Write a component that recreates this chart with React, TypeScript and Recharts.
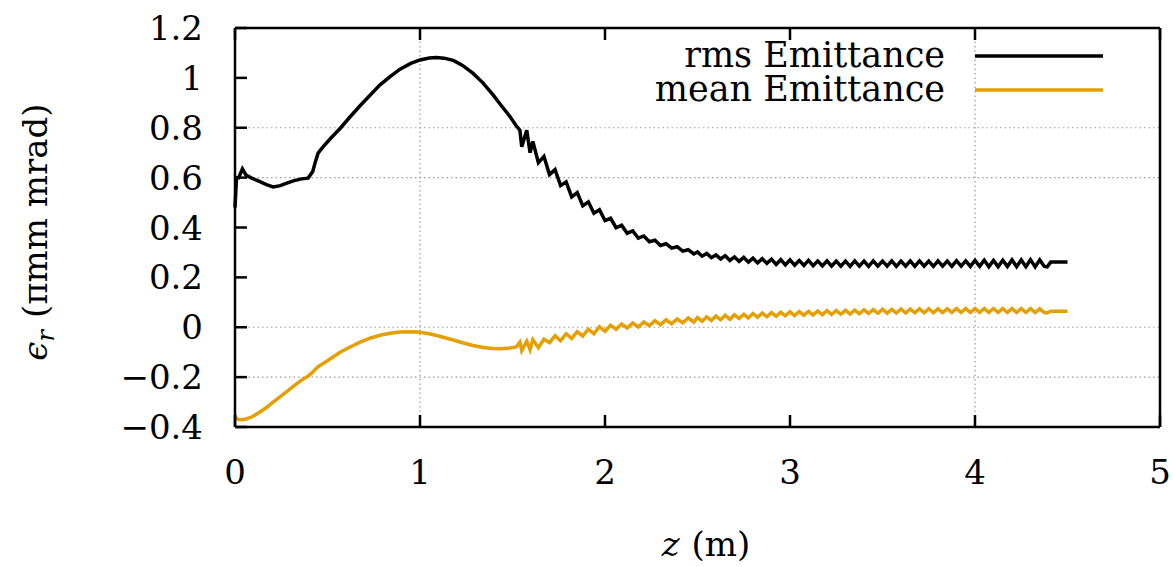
import React from 'react';
import { LineChart, Line, XAxis, YAxis, CartesianGrid } from 'recharts';

// z positions (m), shared by both series
const zPos = [
  0, 0.008, 0.02, 0.04, 0.06, 0.09, 0.135, 0.17, 0.206, 0.245, 0.28, 0.32, 0.36, 0.395, 0.42, 0.435, 0.449,
  0.477, 0.52, 0.568, 0.62, 0.676, 0.73, 0.784, 0.84, 0.892, 0.95, 1.0, 1.05, 1.09, 1.13, 1.18, 1.23, 1.287,
  1.34, 1.395, 1.44, 1.486, 1.52,
  1.54, 1.55, 1.577, 1.595, 1.61, 1.64, 1.67, 1.7, 1.73, 1.76, 1.79, 1.82, 1.85, 1.88, 1.91, 1.94, 1.97, 2.0,
  2.03, 2.06, 2.09, 2.12, 2.15, 2.18, 2.21, 2.24, 2.27, 2.3, 2.33, 2.36, 2.39, 2.42, 2.45, 2.48,
  2.5, 2.525, 2.55, 2.575, 2.6, 2.625, 2.65, 2.675, 2.7, 2.725, 2.75, 2.775, 2.8, 2.825, 2.85, 2.875, 2.9,
  2.925, 2.95, 2.975, 3.0, 3.025, 3.05, 3.075, 3.1, 3.125, 3.15, 3.175, 3.2, 3.225, 3.25, 3.275, 3.3, 3.325,
  3.35, 3.375, 3.4, 3.425, 3.45, 3.475, 3.5, 3.525, 3.55, 3.575, 3.6, 3.625, 3.65, 3.675, 3.7, 3.725, 3.75,
  3.775, 3.8, 3.825, 3.85, 3.875, 3.9, 3.925, 3.95, 3.975, 4.0, 4.025, 4.05, 4.075, 4.1, 4.125, 4.15, 4.175,
  4.2, 4.225, 4.25, 4.275, 4.3, 4.325, 4.35, 4.375,
  4.39, 4.41, 4.5,
];

// rms emittance
const rmsEmit = [
  0.48, 0.6, 0.6, 0.635, 0.61, 0.598, 0.584, 0.572, 0.563, 0.568, 0.578, 0.588, 0.595, 0.598, 0.624, 0.665, 0.698,
  0.724, 0.76, 0.797, 0.842, 0.888, 0.93, 0.972, 1.006, 1.035, 1.058, 1.072, 1.08, 1.082, 1.079, 1.07, 1.05, 1.018,
  0.98, 0.932, 0.888, 0.845, 0.808,
  0.79, 0.724, 0.79, 0.7, 0.745, 0.66, 0.685, 0.612, 0.632, 0.568, 0.583, 0.523, 0.54, 0.487, 0.503, 0.457, 0.471, 0.428,
  0.437, 0.399, 0.409, 0.377, 0.386, 0.357, 0.366, 0.343, 0.349, 0.328, 0.335, 0.317, 0.323, 0.305, 0.311, 0.294,
  0.302, 0.285, 0.296, 0.279, 0.29, 0.274, 0.287, 0.268, 0.282, 0.264, 0.28, 0.261, 0.277, 0.258, 0.275, 0.256, 0.273,
  0.252, 0.271, 0.25, 0.27, 0.249, 0.268, 0.248, 0.268, 0.247, 0.266, 0.246, 0.266, 0.245, 0.265, 0.245, 0.265, 0.244,
  0.266, 0.245, 0.265, 0.244, 0.266, 0.245, 0.265, 0.245, 0.266, 0.244, 0.265, 0.245, 0.266, 0.244, 0.266, 0.245, 0.265,
  0.244, 0.266, 0.245, 0.265, 0.244, 0.267, 0.245, 0.266, 0.244, 0.268, 0.244, 0.269, 0.243, 0.268, 0.243, 0.269, 0.244,
  0.27, 0.243, 0.27, 0.243, 0.271, 0.242, 0.27, 0.244,
  0.242, 0.262, 0.262,
];

// mean emittance
const meanEmit = [
  -0.355, -0.365, -0.37, -0.371, -0.368, -0.36, -0.34, -0.322, -0.3, -0.278, -0.258, -0.234, -0.212, -0.196, -0.18,
  -0.168, -0.158, -0.145, -0.124, -0.1, -0.08, -0.06, -0.044, -0.032, -0.024, -0.019, -0.018, -0.02, -0.026, -0.033,
  -0.041, -0.051, -0.062, -0.073, -0.081, -0.085, -0.086, -0.083, -0.079,
  -0.06, -0.094, -0.056, -0.09, -0.05, -0.082, -0.048, -0.062, -0.034, -0.054, -0.026, -0.045, -0.018, -0.035, -0.008,
  -0.026, 0.002, -0.016, 0.008, -0.008, 0.013, -0.003, 0.017, 0.001, 0.021, 0.006, 0.026, 0.01, 0.03, 0.014, 0.033,
  0.018, 0.037, 0.021,
  0.039, 0.024, 0.042, 0.027, 0.045, 0.03, 0.048, 0.032, 0.05, 0.035, 0.052, 0.037, 0.055, 0.04, 0.057, 0.042, 0.059,
  0.044, 0.06, 0.046, 0.062, 0.047, 0.063, 0.048, 0.064, 0.049, 0.065, 0.05, 0.067, 0.051, 0.067, 0.052, 0.068, 0.053,
  0.069, 0.054, 0.07, 0.055, 0.071, 0.056, 0.072, 0.056, 0.072, 0.057, 0.073, 0.057, 0.073, 0.058, 0.074, 0.058, 0.074,
  0.058, 0.074, 0.059, 0.074, 0.059, 0.075, 0.059, 0.075, 0.059, 0.075, 0.059, 0.075, 0.059, 0.075, 0.059, 0.075, 0.059,
  0.075, 0.059, 0.075, 0.059, 0.075, 0.059, 0.074, 0.059,
  0.057, 0.064, 0.064,
];

const zTicks = [0, 1, 2, 3, 4, 5];
const epsTicks = [-0.4, -0.2, 0, 0.2, 0.4, 0.6, 0.8, 1, 1.2];
// only these grid lines show up in the original render
const gridZ = [1, 4];
const gridEps = [-0.2, 0, 0.6, 0.8];

const n = Math.min(zPos.length, rmsEmit.length, meanEmit.length);
const data = zPos.slice(0, n).map((z, i) => ({ z, rms: rmsEmit[i], mean: meanEmit[i] }));

const FONT = "'DejaVu Serif', 'Liberation Serif', serif";
const FS = 34;
const TICK = 12;
const txt = { fontFamily: FONT, fontSize: FS, fontWeight: 300 };

const fmt = (v: number) => String(v).replace('-', '\u2212');

const BottomTick = (props: any) => {
  const { x, y, payload } = props;
  return (
    <g>
      <line x1={x} x2={x} y1={y} y2={y - TICK} stroke="#000" strokeWidth={2.5} />
      <text x={x} y={y + 57} textAnchor="middle" style={txt} fill="#000">
        {fmt(payload.value)}
      </text>
    </g>
  );
};

const TopTick = (props: any) => {
  const { x, y } = props;
  return <line x1={x} x2={x} y1={y} y2={y + TICK} stroke="#000" strokeWidth={2.5} />;
};

const LeftTick = (props: any) => {
  const { x, y, payload } = props;
  return (
    <g>
      <line x1={x} x2={x + TICK} y1={y} y2={y} stroke="#000" strokeWidth={2.5} />
      <text x={x - 32} y={y + 12} textAnchor="end" style={txt} fill="#000">
        {fmt(payload.value)}
      </text>
    </g>
  );
};

const RightTick = (props: any) => {
  const { x, y } = props;
  return <line x1={x} x2={x - TICK} y1={y} y2={y} stroke="#000" strokeWidth={2.5} />;
};

const frame = { stroke: '#000', strokeWidth: 2.5 };

export default function App() {
  return (
    <div style={{ position: 'absolute', left: 0, top: 0, width: 1173, height: 567, background: '#fff' }}>
      <LineChart width={1173} height={567} data={data} margin={{ top: 0, right: 0, bottom: 0, left: 0 }}>
        <XAxis
          xAxisId="b"
          dataKey="z"
          type="number"
          domain={[0, 5]}
          ticks={zTicks}
          height={140}
          tickSize={0}
          tickMargin={0}
          tickLine={false}
          axisLine={frame}
          tick={BottomTick}
          interval={0}
        />
        <XAxis
          xAxisId="t"
          orientation="top"
          dataKey="z"
          type="number"
          domain={[0, 5]}
          ticks={zTicks}
          height={28}
          tickSize={0}
          tickMargin={0}
          tickLine={false}
          axisLine={frame}
          tick={TopTick}
          interval={0}
        />
        <YAxis
          yAxisId="l"
          type="number"
          domain={[-0.4, 1.2]}
          ticks={epsTicks}
          width={235}
          tickSize={0}
          tickMargin={0}
          tickLine={false}
          axisLine={frame}
          tick={LeftTick}
          interval={0}
        />
        <YAxis
          yAxisId="r"
          orientation="right"
          type="number"
          domain={[-0.4, 1.2]}
          ticks={epsTicks}
          width={13}
          tickSize={0}
          tickMargin={0}
          tickLine={false}
          axisLine={frame}
          tick={RightTick}
          interval={0}
        />
        <CartesianGrid
          xAxisId="b"
          yAxisId="l"
          horizontalValues={gridEps}
          verticalValues={gridZ}
          stroke="#9a9a9a"
          strokeWidth={1.2}
          strokeDasharray="1.5 3"
        />
        <Line
          xAxisId="b"
          yAxisId="l"
          dataKey="rms"
          type="linear"
          stroke="#000"
          strokeWidth={3.5}
          dot={false}
          isAnimationActive={false}
        />
        <Line
          xAxisId="b"
          yAxisId="l"
          dataKey="mean"
          type="linear"
          stroke="#e69f00"
          strokeWidth={3.5}
          dot={false}
          isAnimationActive={false}
        />
      </LineChart>
      <svg
        width={1173}
        height={567}
        style={{ position: 'absolute', left: 0, top: 0, pointerEvents: 'none', fontFamily: FONT, fontSize: FS }}
      >
        <text x={945} y={67} textAnchor="end" style={{ ...txt, fontSize: 35 }}>
          rms Emittance
        </text>
        <line x1={975} x2={1103} y1={56} y2={56} stroke="#000" strokeWidth={3.5} />
        <text x={945} y={101} textAnchor="end" style={{ ...txt, fontSize: 35 }}>
          mean Emittance
        </text>
        <line x1={975} x2={1103} y1={90} y2={90} stroke="#e69f00" strokeWidth={3.5} />
        <text x={706} y={556} textAnchor="middle" style={txt}>
          <tspan fontStyle="italic">z</tspan>
          <tspan dx={12}>(m)</tspan>
        </text>
        <g transform="translate(47,232) rotate(-90)">
          <text x={0} y={0} textAnchor="middle" style={txt}>
            <tspan fontStyle="italic">{'\u03F5'}</tspan>
            <tspan fontStyle="italic" fontSize={24} dy={7}>r</tspan>
            <tspan dy={-7} dx={12}>(</tspan>
            <tspan>{'\u03C0'}</tspan>
            <tspan>mm mrad)</tspan>
          </text>
        </g>
      </svg>
    </div>
  );
}
